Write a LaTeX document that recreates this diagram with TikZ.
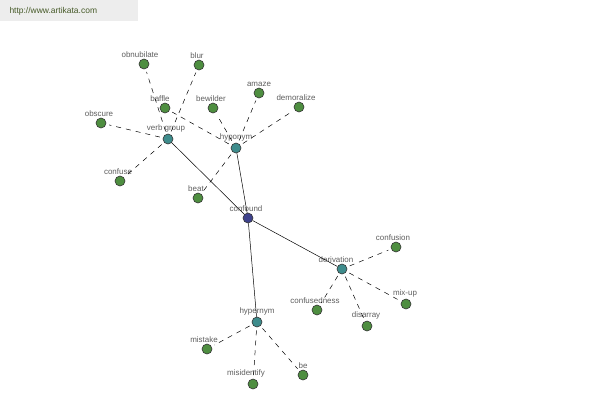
\documentclass[tikz,border=0pt]{standalone}
\usepackage{fontspec}
\setmainfont{Liberation Sans}
\definecolor{leafGreen}{RGB}{78,142,64}
\definecolor{relTeal}{RGB}{62,140,140}
\definecolor{rootBlue}{RGB}{62,66,140}
\definecolor{labelGray}{RGB}{95,95,95}
\definecolor{siteGreen}{RGB}{70,90,40}
\tikzset{
	wordNode/.style={circle, draw=black!80, line width=0.6pt, inner sep=0pt, minimum size=10bp},
	leaf/.style={wordNode, fill=leafGreen},
	relation/.style={wordNode, fill=relTeal},
	root/.style={wordNode, fill=rootBlue},
	wordLabel/.style={text=labelGray, font=\fontsize{8}{9}\selectfont, inner sep=1pt, xshift=-2bp},
	relLink/.style={line width=0.5pt, black},
	wordLink/.style={line width=0.5pt, black, dash pattern=on 5bp off 5bp, shorten <=3bp, shorten >=3bp}
}
\begin{document}
\begin{tikzpicture}[x=1bp, y=-1bp]
	\useasboundingbox[fill=white] (0,0) rectangle (600,400);
	\node[rectangle, fill=black!7, minimum width=138bp, minimum height=21bp, anchor=north west](siteBox) at (0,0){};
	\node[anchor=west, text=siteGreen, font=\fontsize{8.5}{10}\selectfont](siteLabel) at (6,11){http://www.artikata.com};

	% draw centre and relation nodes
	\node[root, label={[wordLabel]above:confound}](confound) at (248,218){};
	\node[relation, label={[wordLabel]above:verb group}](verbGroup) at (168,139){};
	\node[relation, label={[wordLabel, xshift=2bp]above:hyponym}](hyponym) at (236,148){};
	\node[relation, label={[wordLabel, xshift=-4bp]above:derivation}](derivation) at (342,269){};
	\node[relation, label={[wordLabel, xshift=2bp]above:hypernym}](hypernym) at (257,322){};

	% draw verb group words
	\node[leaf, label={[wordLabel, xshift=-2bp]above:obnubilate}](obnubilate) at (144,64){};
	\node[leaf, label={[wordLabel]above:blur}](blur) at (199,65){};
	\node[leaf, label={[wordLabel]above:obscure}](obscure) at (101,123){};
	\node[leaf, label={[wordLabel]above:confuse}](confuse) at (120,181){};

	% draw hyponym words
	\node[leaf, label={[wordLabel, xshift=-3bp]above:baffle}](baffle) at (165,108){};
	\node[leaf, label={[wordLabel]above:bewilder}](bewilder) at (213,108){};
	\node[leaf, label={[wordLabel, xshift=2bp]above:amaze}](amaze) at (259,93){};
	\node[leaf, label={[wordLabel, xshift=-1bp]above:demoralize}](demoralize) at (299,107){};
	\node[leaf, label={[wordLabel]above:beat}](beat) at (198,198){};

	% draw derivation words
	\node[leaf, label={[wordLabel, xshift=-1bp]above:confusion}](confusion) at (396,247){};
	\node[leaf, label={[wordLabel]above:confusedness}](confusedness) at (317,310){};
	\node[leaf, label={[wordLabel, xshift=1bp]above:disarray}](disarray) at (367,326){};
	\node[leaf, label={[wordLabel, xshift=1bp]above:mix-up}](mixUp) at (406,304){};

	% draw hypernym words
	\node[leaf, label={[wordLabel, xshift=-1bp]above:mistake}](mistake) at (207,349){};
	\node[leaf, label={[wordLabel, xshift=-5bp]above:misidentify}](misidentify) at (253,384){};
	\node[leaf, label={[wordLabel, xshift=2bp]above:be}](be) at (303,375){};

	% relation links
	\foreach \rel in {verbGroup, hyponym, derivation, hypernym}
		\draw[relLink] (confound) -- (\rel);

	% word links
	\foreach \word in {obnubilate, blur, obscure, confuse}
		\draw[wordLink] (verbGroup) -- (\word);
	\foreach \word in {baffle, bewilder, amaze, demoralize, beat}
		\draw[wordLink] (hyponym) -- (\word);
	\foreach \word in {confusion, confusedness, disarray, mixUp}
		\draw[wordLink] (derivation) -- (\word);
	\foreach \word in {mistake, misidentify, be}
		\draw[wordLink] (hypernym) -- (\word);
\end{tikzpicture}
\end{document}
